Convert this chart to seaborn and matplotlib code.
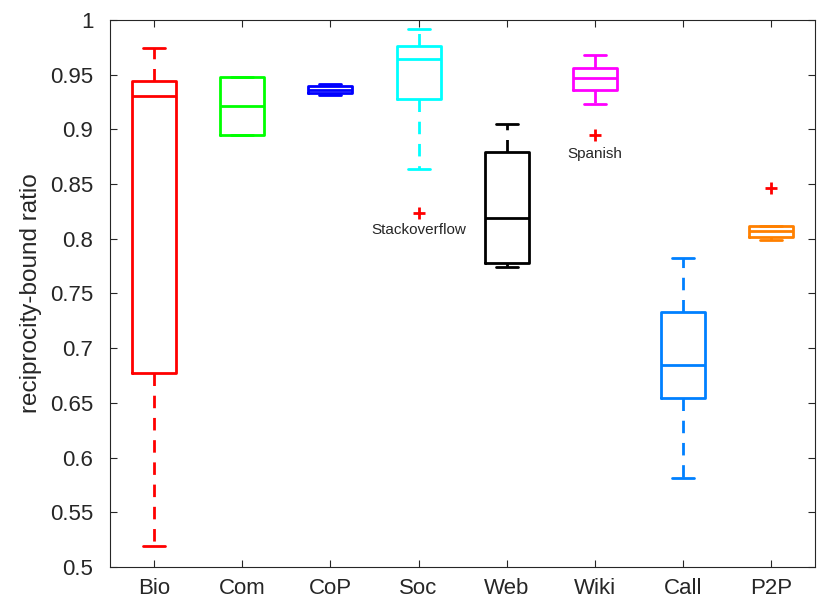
import numpy as np
import pandas as pd
import seaborn as sns
import matplotlib.pyplot as plt

# categories and box statistics
cats = ['Bio', 'Com', 'CoP', 'Soc', 'Web', 'Wiki', 'Call', 'P2P']
colors = ['#ff0000', '#00ff00', '#0000ff', '#00ffff', '#000000', '#ff00ff', '#0080ff', '#ff8000']
whisker_lo = [0.519, 0.895, 0.9313, 0.864, 0.7742, 0.9227, 0.581, 0.799]
q1 = [0.677, 0.895, 0.9335, 0.9276, 0.7779, 0.9358, 0.6542, 0.802]
median = [0.930, 0.9215, 0.9356, 0.964, 0.819, 0.9466, 0.6847, 0.8075]
q3 = [0.944, 0.948, 0.940, 0.9765, 0.8796, 0.9557, 0.7327, 0.8118]
whisker_hi = [0.9743, 0.948, 0.9413, 0.9915, 0.9047, 0.968, 0.7825, 0.8118]
outlier_lo = [None, None, None, 0.8237, None, 0.8946, None, None]
outlier_hi = [None, None, None, None, None, None, None, 0.8466]

# labelled outliers
notes = ['Stackoverflow', 'Spanish']
note_cat = ['Soc', 'Wiki']
note_y = [0.8084, 0.877]

yticks = [0.5, 0.55, 0.6, 0.65, 0.7, 0.75, 0.8, 0.85, 0.9, 0.95, 1.0]

# 9 samples per group -> quartiles land exactly on q1 / median / q3
rows = []
for i, c in enumerate(cats):
    lo0 = outlier_lo[i] if outlier_lo[i] is not None else whisker_lo[i]
    hi8 = outlier_hi[i] if outlier_hi[i] is not None else whisker_hi[i]
    vals = [lo0, whisker_lo[i], q1[i], q1[i], median[i], q3[i], q3[i], whisker_hi[i], hi8]
    for v in vals:
        rows.append((c, v))
df = pd.DataFrame(rows, columns=['net', 'ratio'])

sns.set_style('ticks')
plt.rcParams['font.family'] = ['Liberation Sans', 'DejaVu Sans']

fig = plt.figure(figsize=(8.17, 6.03), dpi=100)
ax = fig.add_axes([0.1346, 0.0597, 0.8634, 0.9073])

lw = 2
for c, col in zip(cats, colors):
    sub = df[df['net'] == c]
    sns.boxplot(data=sub, x='net', y='ratio', order=cats, color=col, fill=False,
                width=0.5, whis=1.5, ax=ax,
                boxprops=dict(color=col, linewidth=lw),
                medianprops=dict(color=col, linewidth=lw),
                whiskerprops=dict(color=col, linewidth=lw, linestyle=(0, (4.5, 3.5))),
                capprops=dict(color=col, linewidth=lw),
                flierprops=dict(marker='+', markeredgecolor='red', markersize=9,
                                markeredgewidth=2, linestyle='none'))

for t, c, y in zip(notes, note_cat, note_y):
    ax.text(cats.index(c), y, t, ha='center', va='center', fontsize=11)

ax.set_xlim(-0.5, 7.5)
ax.set_ylim(0.5, 1.0)
ax.set_yticks(yticks)
ax.set_yticklabels(['%g' % v for v in yticks])
ax.set_xlabel('')
ax.set_ylabel('reciprocity-bound ratio', fontsize=17.5, labelpad=6)
ax.tick_params(direction='in', top=True, right=True, length=5, width=0.8,
               labelsize=16, color='#262626')
ax.tick_params(axis='y', pad=12)
ax.tick_params(axis='x', pad=8)
for s in ax.spines.values():
    s.set_visible(True)
    s.set_linewidth(0.8)
    s.set_color('#262626')

fig.savefig('out.png', dpi=100)
